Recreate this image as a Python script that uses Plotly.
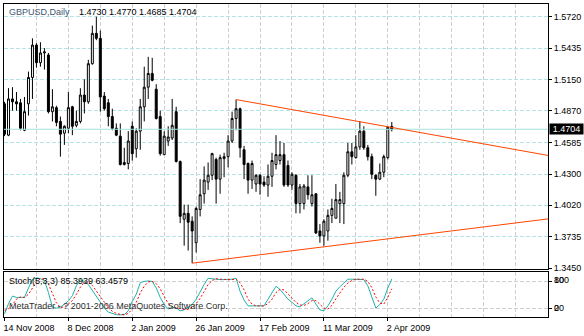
import plotly.graph_objects as go

# ---- GBPUSD daily bars (bar index 0 = 14 Nov 2008) ----
opens = [1.4934, 1.4651, 1.4978, 1.4952, 1.4943, 1.4695, 1.4934, 1.5172, 1.5464, 1.5305,
         1.5393, 1.5375, 1.4863, 1.4899, 1.4775, 1.4669, 1.4713, 1.4907, 1.4740, 1.4775,
         1.5013, 1.4952, 1.5296, 1.5570, 1.5525, 1.5004, 1.4943, 1.4819, 1.4713, 1.4642,
         1.4386, 1.4395, 1.4731, 1.4528, 1.4687, 1.4907, 1.5084, 1.5208, 1.5066, 1.4819,
         1.4475, 1.4598, 1.4625, 1.4863, 1.4413, 1.3892, 1.3945, 1.3874, 1.3680, 1.3980,
         1.4122, 1.4227, 1.4289, 1.4431, 1.4254, 1.4439, 1.4457, 1.4598, 1.4801, 1.4890,
         1.4519, 1.4395, 1.4245, 1.4210, 1.4289, 1.4227, 1.4201, 1.4280, 1.4386, 1.4422,
         1.4475, 1.4377, 1.4201, 1.4289, 1.4033, 1.4033, 1.4184, 1.4033, 1.4122, 1.3786,
         1.3741, 1.3786, 1.3927, 1.3901, 1.4033, 1.4033, 1.4289, 1.4501, 1.4448, 1.4545,
         1.4687, 1.4537, 1.4457, 1.4289, 1.4254, 1.4316, 1.4448, 1.4730]
highs = [1.4952, 1.5075, 1.5084, 1.5040, 1.4978, 1.4996, 1.5225, 1.5525, 1.5481, 1.5490,
         1.5437, 1.5393, 1.5066, 1.4916, 1.4819, 1.4740, 1.5040, 1.4916, 1.4872, 1.5075,
         1.5155, 1.5331, 1.5640, 1.5720, 1.5596, 1.5040, 1.4978, 1.4890, 1.4757, 1.4757,
         1.4537, 1.4687, 1.4775, 1.4713, 1.4978, 1.5269, 1.5358, 1.5349, 1.5111, 1.4872,
         1.4687, 1.4731, 1.4978, 1.4907, 1.4422, 1.4024, 1.4024, 1.3918, 1.4007, 1.4254,
         1.4369, 1.4404, 1.4492, 1.4448, 1.4475, 1.4492, 1.4651, 1.4863, 1.4972, 1.4899,
         1.4554, 1.4404, 1.4422, 1.4298, 1.4298, 1.4280, 1.4386, 1.4492, 1.4651, 1.4598,
         1.4581, 1.4422, 1.4316, 1.4298, 1.4210, 1.4210, 1.4289, 1.4289, 1.4122, 1.3848,
         1.3892, 1.3980, 1.4077, 1.4210, 1.4139, 1.4316, 1.4581, 1.4581, 1.4651, 1.4775,
         1.4731, 1.4563, 1.4484, 1.4298, 1.4395, 1.4475, 1.4731, 1.4770]
lows = [1.4642, 1.4642, 1.4872, 1.4872, 1.4695, 1.4687, 1.4828, 1.4978, 1.5261, 1.5269,
        1.5243, 1.4847, 1.4775, 1.4731, 1.4457, 1.4563, 1.4669, 1.4651, 1.4722, 1.4757,
        1.4847, 1.4934, 1.5287, 1.5508, 1.4863, 1.4872, 1.4731, 1.4695, 1.4642, 1.4377,
        1.4377, 1.4342, 1.4422, 1.4448, 1.4519, 1.4775, 1.4978, 1.5137, 1.4793, 1.4466,
        1.4475, 1.4554, 1.4607, 1.4404, 1.3857, 1.3653, 1.3609, 1.3495, 1.3592, 1.3918,
        1.4033, 1.4157, 1.4245, 1.4033, 1.4122, 1.4271, 1.4360, 1.4581, 1.4695, 1.4448,
        1.4254, 1.4122, 1.4166, 1.4139, 1.4113, 1.4184, 1.4095, 1.4184, 1.4342, 1.4386,
        1.4184, 1.4184, 1.4157, 1.3945, 1.3945, 1.3980, 1.4069, 1.4007, 1.3759, 1.3680,
        1.3653, 1.3698, 1.3857, 1.3901, 1.3857, 1.3848, 1.4271, 1.4386, 1.4439, 1.4519,
        1.4519, 1.4422, 1.4254, 1.4104, 1.4245, 1.4271, 1.4431, 1.4685]
closes = [1.4660, 1.4978, 1.4952, 1.4934, 1.4713, 1.4863, 1.5172, 1.5464, 1.5305, 1.5393,
          1.5402, 1.4863, 1.4907, 1.4766, 1.4660, 1.4731, 1.4899, 1.4731, 1.4775, 1.5013,
          1.4952, 1.5296, 1.5570, 1.5525, 1.4996, 1.4890, 1.4819, 1.4713, 1.4651, 1.4386,
          1.4404, 1.4598, 1.4484, 1.4687, 1.4907, 1.5084, 1.5208, 1.5146, 1.4801, 1.4484,
          1.4642, 1.4634, 1.4740, 1.4413, 1.3918, 1.3945, 1.3865, 1.3786, 1.3989, 1.4113,
          1.4245, 1.4289, 1.4484, 1.4254, 1.4448, 1.4457, 1.4598, 1.4801, 1.4890, 1.4537,
          1.4386, 1.4245, 1.4395, 1.4289, 1.4210, 1.4201, 1.4280, 1.4422, 1.4475, 1.4475,
          1.4201, 1.4201, 1.4298, 1.4033, 1.4184, 1.4192, 1.4113, 1.4113, 1.3768, 1.3741,
          1.3874, 1.3927, 1.3989, 1.4069, 1.4069, 1.4289, 1.4501, 1.4457, 1.4545, 1.4687,
          1.4537, 1.4457, 1.4298, 1.4254, 1.4316, 1.4457, 1.4722, 1.4704]

# Stochastic(5,3,3) main (%K) and signal (%D) lines
stoch_k = [7, 30, 47, 44, 44, 44, 65, 84, 88, 86,
           82, 55, 22, 20, 22, 28, 36, 48, 70, 84,
           80, 73, 60, 45, 33, 20, 11, 8, 5, 5,
           5, 14, 35, 51, 77, 80, 81, 80, 65, 44,
           28, 18, 22, 20, 14, 16, 22, 28, 40, 58,
           73, 87, 86, 84, 84, 84, 84, 85, 87, 58,
           38, 25, 25, 25, 24, 25, 40, 55, 69, 62,
           51, 40, 33, 25, 23, 30, 38, 43, 29, 16,
           14, 25, 40, 58, 68, 76, 85, 85, 85, 85,
           84, 70, 45, 20, 28, 40, 65, 85.3939]
stoch_d = [15, 18, 28, 40, 45, 44, 51, 64, 79, 86,
           85, 74, 53, 32, 21, 23, 29, 37, 51, 67,
           78, 79, 71, 59, 46, 33, 21, 13, 8, 6,
           5, 8, 18, 33, 54, 69, 79, 80, 75, 63,
           46, 30, 23, 20, 19, 17, 17, 22, 30, 42,
           57, 73, 82, 86, 85, 84, 84, 84, 85, 77,
           61, 40, 29, 25, 25, 25, 30, 40, 55, 62,
           61, 51, 41, 33, 27, 26, 30, 37, 37, 29,
           20, 18, 26, 41, 55, 67, 76, 82, 85, 85,
           85, 80, 66, 45, 31, 29, 44, 63.4579]

# Time axis labels (bar index -> date)
date_ticks = [0, 16, 32, 48, 64, 80, 96]
date_labels = ["14 Nov 2008", "8 Dec 2008", "2 Jan 2009", "26 Jan 2009",
               "17 Feb 2009", "11 Mar 2009", "2 Apr 2009"]
grid_bars = [8, 24, 40, 56, 72, 88, 104, 112, 120, 128]

# Price scale labels
price_ticks = [1.5720, 1.5435, 1.5150, 1.4870, 1.4585, 1.4300, 1.4020, 1.3735, 1.3450]

# Triangle trend lines: two anchor points each (bar index, price), drawn as rays
upper_bars = [58, 89]
upper_prices = [1.4972, 1.4772]
lower_bars = [47, 80]
lower_prices = [1.3495, 1.3643]

bars = list(range(len(opens)))
X_MIN = -0.125
X_MAX = 136.125

W, H = 584, 336
ML, MR, MT, MB = 3, 36, 3, 13


def px_x(px):
    return (px - ML) / (W - ML - MR)


def px_y(py):
    return (H - MB - py) / (H - MT - MB)


def ray(bx, py):
    slope = (py[1] - py[0]) / (bx[1] - bx[0])
    return [bx[0], X_MAX], [py[0], py[0] + slope * (X_MAX - bx[0])]


FONT = "Liberation Sans, Arial, sans-serif"
GRID_V = "#cfcfcf"
GRID_H = "#b5e2e2"
DASH = "4px,2px"

fig = go.Figure()

# Bid line at the last close, across the whole price pane
fig.add_trace(go.Scatter(x=[X_MIN, X_MAX], y=[closes[-1], closes[-1]], mode="lines",
                         xaxis="x", yaxis="y", line=dict(color="#a6e3df", width=1),
                         showlegend=False, hoverinfo="skip"))

fig.add_trace(go.Candlestick(
    x=bars, open=opens, high=highs, low=lows, close=closes,
    xaxis="x", yaxis="y",
    increasing=dict(line=dict(color="black", width=1), fillcolor="white"),
    decreasing=dict(line=dict(color="black", width=1), fillcolor="black"),
    whiskerwidth=0, showlegend=False, hoverinfo="skip",
))

ux, uy = ray(upper_bars, upper_prices)
lx, ly = ray(lower_bars, lower_prices)
for tx, ty in ((ux, uy), (lx, ly)):
    fig.add_trace(go.Scatter(x=tx, y=ty, mode="lines", xaxis="x", yaxis="y",
                             line=dict(color="#ff4500", width=1),
                             showlegend=False, hoverinfo="skip"))

fig.add_trace(go.Scatter(x=bars, y=stoch_k, mode="lines", xaxis="x2", yaxis="y2",
                         line=dict(color="#20b2aa", width=1),
                         showlegend=False, hoverinfo="skip"))
fig.add_trace(go.Scatter(x=bars, y=stoch_d, mode="lines", xaxis="x2", yaxis="y2",
                         line=dict(color="#ff0000", width=1, dash="2px,2px"),
                         showlegend=False, hoverinfo="skip"))

main_bottom = px_y(274)
stoch_top = px_y(277.5)

common_x = dict(range=[X_MIN, X_MAX], showline=True, mirror=True, linecolor="black",
                linewidth=1, zeroline=False, showgrid=True, gridcolor=GRID_V,
                griddash=DASH, gridwidth=1, tickmode="array", tickvals=date_ticks,
                minor=dict(tickmode="array", tickvals=grid_bars, showgrid=True,
                           gridcolor=GRID_V, griddash=DASH, ticks=""),
                fixedrange=True)

fig.update_layout(
    width=W, height=H,
    margin=dict(l=ML, r=MR, t=MT, b=MB, pad=0),
    paper_bgcolor="white", plot_bgcolor="white",
    font=dict(family=FONT, size=9, color="black"),
    showlegend=False,
    xaxis=dict(common_x, domain=[0, 1], anchor="y", showticklabels=False, ticks="",
               rangeslider=dict(visible=False)),
    xaxis2=dict(common_x, domain=[0, 1], anchor="y2", ticktext=date_labels,
                ticks="outside", ticklen=3, tickcolor="black",
                ticklabelposition="outside right", ticklabelshift=-2,
                ticklabelstandoff=2,
                tickfont=dict(family=FONT, size=9, color="black")),
    yaxis=dict(domain=[main_bottom, 1], anchor="x", side="right",
               range=[1.3442, 1.5835], tickmode="array", tickvals=price_ticks,
               tickformat=".4f", ticks="outside", ticklen=3, tickcolor="black",
               showgrid=True, gridcolor=GRID_H, griddash=DASH, gridwidth=1,
               showline=True, mirror=True, linecolor="black", linewidth=1,
               zeroline=False, fixedrange=True,
               tickfont=dict(family=FONT, size=9, color="black")),
    yaxis2=dict(domain=[0, stoch_top], anchor="x2", side="right", range=[0, 100],
                tickmode="array", tickvals=[20, 80], showticklabels=False,
                ticks="outside", ticklen=3, tickcolor="black",
                showgrid=True, gridcolor=GRID_V, griddash=DASH, gridwidth=1,
                showline=True, mirror=True, linecolor="black", linewidth=1,
                zeroline=False, fixedrange=True),
)

ann = []
ann.append(dict(x=px_x(7), y=px_y(11), text="GBPUSD,Daily",
                font=dict(color="#3a5670")))
ann.append(dict(x=px_x(77), y=px_y(11),
                text=f"{opens[-1]:.4f} {highs[-1]:.4f} {lows[-1]:.4f} {closes[-1]:.4f}"))
ann.append(dict(x=px_x(7), y=px_y(286.5),
                text=f"Stoch(5,3,3) {stoch_k[-1]:.4f} {stoch_d[-1]:.4f}"))
ann.append(dict(x=px_x(7), y=px_y(311.5),
                text="MetaTrader - ? 2001-2006 MetaQuotes Software Corp.",
                font=dict(color="#303030")))
for txt, py in (("80", 285.5), ("100", 285.5), ("20", 313.5), ("0", 313.5)):
    ann.append(dict(x=px_x(553), y=px_y(py), text=txt))
for a in ann:
    a["font"] = dict(dict(family=FONT, size=9, color="black"), **a.get("font", {}))
    fig.add_annotation(xref="paper", yref="paper", xanchor="left", yanchor="middle",
                       showarrow=False, borderpad=0, **a)

# Current price tag on the price scale
fig.add_annotation(xref="paper", yref="y", x=px_x(549), y=closes[-1],
                   xanchor="left", yanchor="middle", showarrow=False,
                   text=f"{closes[-1]:.4f}", bgcolor="black", width=33, height=10,
                   borderpad=0, align="center",
                   font=dict(family=FONT, size=9, color="white"))

fig.write_html("out.html")
